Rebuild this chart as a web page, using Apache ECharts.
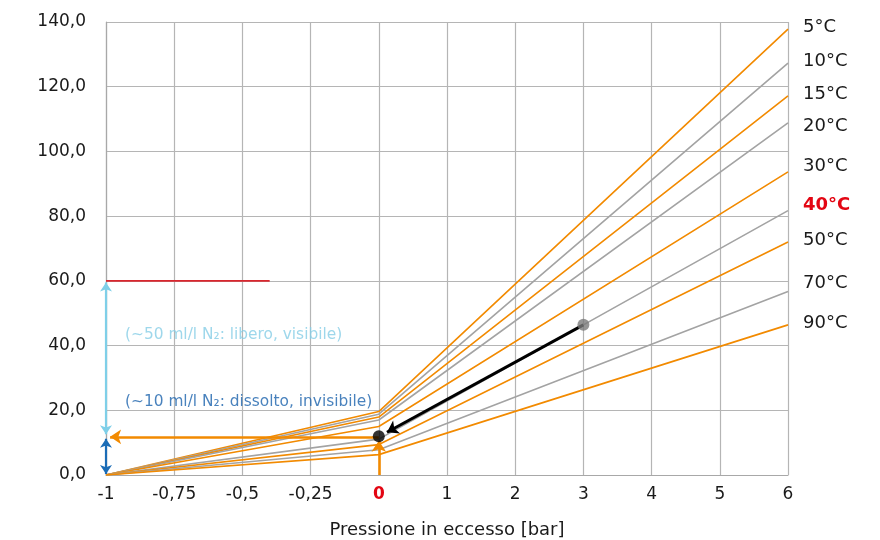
<!DOCTYPE html>
<html><head><meta charset="utf-8">
<script src="https://cdn.jsdelivr.net/npm/echarts@6/dist/echarts.min.js"></script>
<style>html,body{margin:0;padding:0;background:#fff}#c{width:880px;height:540px}</style>
</head><body><div id="c"></div>
<script>
// ---- data ----
var xTicks = [-1, -0.75, -0.5, -0.25, 0, 1, 2, 3, 4, 5, 6];
var temps = ['5°C','10°C','15°C','20°C','30°C','40°C','50°C','70°C','90°C'];
var valAtMinus1 = [0, 0, 0, 0, 0, 0, 0, 0, 0];
var valAt0 = [19.6, 18.8, 17.9, 17.0, 15.0, 11.1, 9.4, 7.8, 6.3];
var valAt6 = [137.8, 127.3, 117.2, 108.8, 93.7, 81.7, 72.0, 56.7, 46.4];
var startPoint = [3, 46.4];   // grey dot (40°C, 3 bar)
var endPoint = [0, 12.0];     // black dot (0 bar)
var limitLine = [[-1, 60], [-0.4, 60]];
var textFree = '(~50 ml/l N₂: libero, visibile)';
var textDiss = '(~10 ml/l N₂: dissolto, invisibile)';

// ---- styles ----
var ORANGE = '#f28a00', GREY = '#a3a3a3', RED = '#e30613';
var colors = [ORANGE, GREY, ORANGE, GREY, ORANGE, GREY, ORANGE, GREY, ORANGE];
var labelDy = [-2, -2, -1, 3, -5, -5, -2, -8, -2];
var FONT = 'DejaVu Sans';

// piecewise axis mapping: -1..0 occupies 4 units, 0..6 one unit per bar
function toPos(x) { return x <= 0 ? (x + 1) * 4 : 4 + x; }
function P(x, y) { return [toPos(x), y]; }

var series = [];
temps.forEach(function (t, i) {
  series.push({
    type: 'line', name: t, silent: true, symbol: 'none', z: 2,
    data: [P(-1, valAtMinus1[i]), P(0, valAt0[i]), P(6, valAt6[i])],
    lineStyle: { color: colors[i], width: 1.6 },
    endLabel: {
      show: true, formatter: t, distance: 15, offset: [0, labelDy[i]],
      fontFamily: FONT, fontSize: 18,
      color: i === 5 ? RED : '#1a1a1a', fontWeight: i === 5 ? 'bold' : 'normal'
    }
  });
});

// red limit line
series.push({
  type: 'line', silent: true, symbol: 'none', z: 3,
  data: limitLine.map(function (p) { return P(p[0], p[1]); }),
  lineStyle: { color: '#d9262e', width: 1.6 }
});

// arrows
function arrow(a, b, color, width, both, size) {
  return {
    coords: [P(a[0], a[1]), P(b[0], b[1])],
    symbol: both ? ['arrow', 'arrow'] : ['none', 'arrow'],
    symbolSize: size || 10,
    lineStyle: { color: color, width: width, opacity: 1, curveness: 0 }
  };
}
series.push({
  type: 'lines', coordinateSystem: 'cartesian2d', silent: true, z: 4, clip: false,
  symbolSize: 10,
  data: [
    arrow([0, 0], [0, 10.6], ORANGE, 2.6, false, 11),
    arrow([0, 11.8], [-0.985, 11.8], ORANGE, 2.6, false, 11),
    arrow([-1, 59.5], [-1, 12.6], '#7fcfe8', 2.2, true, 9),
    arrow([-1, 11.2], [-1, 0.3], '#1b6cb6', 2.2, true, 9)
  ]
});
series.push({
  type: 'lines', coordinateSystem: 'cartesian2d', silent: true, z: 5, clip: false,
  data: [arrow(startPoint, [0.12, 13.2], '#000', 3, false, 11)]
});

// dots
series.push({
  type: 'scatter', silent: true, z: 6, symbolSize: 12, clip: false,
  data: [
    { value: P(startPoint[0], startPoint[1]), itemStyle: { color: '#7a7a7a' } },
    { value: P(endPoint[0], endPoint[1]), itemStyle: { color: '#000' } }
  ]
});

// annotation texts
series.push({
  type: 'scatter', silent: true, z: 6, symbolSize: 0, clip: false,
  data: [
    { value: P(-1, 43.4), label: { formatter: textFree, color: '#86cde6' } },
    { value: P(-1, 22.7), label: { formatter: textDiss, color: '#1b63ad' } }
  ],
  label: { show: true, position: 'right', distance: 19, fontFamily: FONT, fontSize: 15.4 }
});

var chart = echarts.init(document.getElementById('c'), null, { renderer: 'canvas' });
chart.setOption({
  animation: false,
  backgroundColor: '#fff',
  grid: { left: 106, top: 22, right: 92, bottom: 65, containLabel: false, outerBoundsMode: 'none' },
  xAxis: {
    type: 'value', min: 0, max: 10, interval: 1,
    name: 'Pressione in eccesso [bar]', nameLocation: 'middle', nameGap: 46,
    nameTextStyle: { fontFamily: FONT, fontSize: 18, color: '#1a1a1a' },
    axisLine: { show: true, lineStyle: { color: '#a8a8a8', width: 1.2 } },
    axisTick: { show: false },
    splitLine: { show: true, lineStyle: { color: '#b5b5b5', width: 1.2 } },
    axisLabel: {
      margin: 11, fontFamily: FONT, fontSize: 17, color: '#1a1a1a',
      formatter: function (v) {
        var t = xTicks[Math.round(v)];
        if (t === undefined) return '';
        if (t === 0) return '{z|0}';
        return String(t).replace('.', ',');
      },
      rich: { z: { color: RED, fontWeight: 'bold', fontFamily: FONT, fontSize: 17 } }
    }
  },
  yAxis: {
    type: 'value', min: 0, max: 140, interval: 20,
    axisLine: { show: true, lineStyle: { color: '#a8a8a8', width: 1.2 } },
    axisTick: { show: false },
    splitLine: { show: true, lineStyle: { color: '#b5b5b5', width: 1.2 } },
    axisLabel: {
      margin: 20, fontFamily: FONT, fontSize: 17, color: '#1a1a1a',
      formatter: function (v) { return v.toFixed(1).replace('.', ','); }
    }
  },
  series: series
});
</script></body></html>
